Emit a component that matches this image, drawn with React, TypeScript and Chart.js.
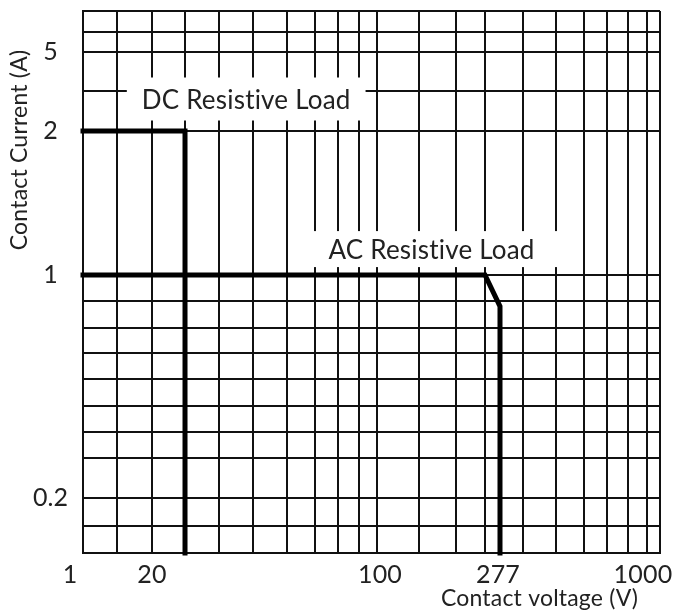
import React, { useEffect, useRef } from 'react';
import { Chart, registerables, LinearScale } from 'chart.js';

// ---------- data ----------
// vertical grid lines (contact voltage, V)
const X_GRID_VOLTS = [1, 10, 20, 30, 40, 50, 60, 70, 80, 90, 100, 150, 200, 250, 300, 400, 500, 600, 700, 800, 1000];
// horizontal grid lines (contact current, A)
const Y_GRID_AMPS = [0.1, 0.15, 0.2, 0.3, 0.4, 0.5, 0.6, 0.7, 0.8, 0.9, 1, 2, 3, 5, 7, 10];

const X_TICK_VALUES = [1, 20, 100, 277, 1000];
const X_TICK_LABELS = ['1', '20', '100', '277', '1000'];
const Y_TICK_VALUES = [5, 2, 1, 0.2];
const Y_TICK_LABELS = ['5', '2', '1', '0.2'];

const DC_VOLTS = [1, 30, 30];
const DC_AMPS = [2, 2, 0.1];
const AC_VOLTS = [1, 250, 277, 277];
const AC_AMPS = [1, 1, 0.88, 0.1];

const CURVE_LABELS = ['DC Resistive Load', 'AC Resistive Load'];
const CURVE_LABEL_VOLTS = [48, 167];
const CURVE_LABEL_AMPS = [2.8, 1.18];

const X_TITLE = 'Contact voltage (V)';
const Y_TITLE = 'Contact Current (A)';

// ---------- scale breakpoints (schematic, non-uniform axes) ----------
const X_BREAK_VALUES = [1, 10, 20, 30, 40, 50, 60, 70, 80, 90, 100, 150, 200, 250, 277, 300, 400, 500, 600, 700, 800, 1000];
const X_BREAK_FRACS = [0, 0.0589, 0.1196, 0.1768, 0.2357, 0.2946, 0.3536, 0.4021, 0.4419, 0.4783, 0.5095, 0.5823, 0.6464, 0.6967, 0.7227, 0.7626, 0.8198, 0.8683, 0.9081, 0.9445, 0.9775, 1];
const Y_BREAK_VALUES = [0.1, 0.15, 0.2, 0.3, 0.4, 0.5, 0.6, 0.7, 0.8, 0.9, 1, 2, 3, 5, 7, 10];
const Y_BREAK_FRACS = [0, 0.0498, 0.1015, 0.1753, 0.2232, 0.2712, 0.321, 0.369, 0.4151, 0.4649, 0.5129, 0.7786, 0.8524, 0.9244, 0.9613, 1];

// ---------- style ----------
const FONT_FAMILY = 'Lato, "Open Sans", sans-serif';
const TEXT_COLOR = '#222';
const GRID_COLOR = '#111';
const GRID_WIDTH = 2;
const CURVE_WIDTH = 5;
const LABEL_FONT_SIZE = 26;
const TICK_FONT_SIZE = 25;
const TITLE_FONT_SIZE = 23;
const LABEL_BOX_PAD = [[15, 21.5], [27, 18]];
const X_TICK_DX = [-13, 0, 3, -2, -17];

function interp(xs: number[], ys: number[], v: number) {
  const n = xs.length;
  let i = 0;
  if (v <= xs[0]) i = 0;
  else if (v >= xs[n - 1]) i = n - 2;
  else {
    while (i < n - 2 && v > xs[i + 1]) i++;
  }
  const t = (v - xs[i]) / (xs[i + 1] - xs[i]);
  return ys[i] + t * (ys[i + 1] - ys[i]);
}

function makeBreakScale(id: string, values: number[], fracs: number[]) {
  class BreakScale extends (LinearScale as any) {
    static id = id;
    static defaults = (LinearScale as any).defaults;
    getPixelForValue(value: number) {
      if (value === null || value === undefined || isNaN(value)) return NaN;
      return this.getPixelForDecimal(interp(values, fracs, value));
    }
    getValueForPixel(pixel: number) {
      return interp(fracs, values, this.getDecimalForPixel(pixel));
    }
  }
  return BreakScale;
}

const VoltScale = makeBreakScale('voltBreak', X_BREAK_VALUES, X_BREAK_FRACS);
const AmpScale = makeBreakScale('ampBreak', Y_BREAK_VALUES, Y_BREAK_FRACS);

Chart.register(...registerables, VoltScale as any, AmpScale as any);

function noLigatures(ctx: any) {
  try {
    ctx.letterSpacing = '0.2px';
  } catch (e) {
    /* ignore */
  }
}

const textPlugin = {
  id: 'textPlugin',
  beforeDatasetsDraw(chart: any) {
    const { ctx, scales } = chart;
    const xs = scales.x;
    const ys = scales.y;
    ctx.save();
    noLigatures(ctx);
    ctx.font = `${LABEL_FONT_SIZE}px ${FONT_FAMILY}`;
    const capH = ctx.measureText('H').actualBoundingBoxAscent;
    CURVE_LABELS.forEach((text, i) => {
      const cx = xs.getPixelForValue(CURVE_LABEL_VOLTS[i]);
      const cy = ys.getPixelForValue(CURVE_LABEL_AMPS[i]);
      const w = ctx.measureText(text).width;
      const [px, py] = LABEL_BOX_PAD[i];
      ctx.fillStyle = '#fff';
      ctx.fillRect(cx - w / 2 - px, cy - py, w + 2 * px, 2 * py);
      ctx.fillStyle = TEXT_COLOR;
      ctx.textAlign = 'center';
      ctx.textBaseline = 'alphabetic';
      ctx.fillText(text, cx, cy + capH / 2);
    });
    ctx.restore();
  },
  afterDraw(chart: any) {
    const { ctx, scales, chartArea } = chart;
    const xs = scales.x;
    ctx.save();
    noLigatures(ctx);
    ctx.fillStyle = TEXT_COLOR;
    ctx.font = `${TICK_FONT_SIZE}px ${FONT_FAMILY}`;
    ctx.textAlign = 'center';
    ctx.textBaseline = 'middle';
    X_TICK_VALUES.forEach((v, i) => {
      ctx.fillText(X_TICK_LABELS[i], xs.getPixelForValue(v) + X_TICK_DX[i], chartArea.bottom + 22);
    });
    ctx.font = `${TITLE_FONT_SIZE}px ${FONT_FAMILY}`;
    ctx.textAlign = 'right';
    ctx.fillText(X_TITLE, chartArea.right - 22, chartArea.bottom + 46);
    ctx.translate(20, chartArea.top + 139);
    ctx.rotate(-Math.PI / 2);
    ctx.textAlign = 'center';
    ctx.fillText(Y_TITLE, 0, 0);
    ctx.restore();
  },
};

export default function App() {
  const ref = useRef<HTMLCanvasElement | null>(null);
  useEffect(() => {
    if (!ref.current) return;
    const chart = new Chart(ref.current, {
      type: 'line',
      data: {
        datasets: [
          {
            label: 'DC',
            data: DC_VOLTS.map((v, i) => ({ x: v, y: DC_AMPS[i] })),
            borderColor: '#000',
            borderWidth: CURVE_WIDTH,
            borderCapStyle: 'square',
            borderJoinStyle: 'miter',
            pointRadius: 0,
            tension: 0,
            clip: false as any,
          },
          {
            label: 'AC',
            data: AC_VOLTS.map((v, i) => ({ x: v, y: AC_AMPS[i] })),
            borderColor: '#000',
            borderWidth: CURVE_WIDTH,
            borderCapStyle: 'square',
            borderJoinStyle: 'miter',
            pointRadius: 0,
            tension: 0,
            clip: false as any,
          },
        ],
      },
      options: {
        animation: false,
        responsive: false,
        maintainAspectRatio: false,
        layout: { padding: { top: 11, right: 16, left: 0, bottom: 0 } },
        plugins: { legend: { display: false }, tooltip: { enabled: false } },
        events: [],
        scales: {
          x: {
            type: 'voltBreak' as any,
            min: 1,
            max: 1000,
            afterBuildTicks: (s: any) => {
              s.ticks = X_GRID_VOLTS.map((v) => ({ value: v }));
            },
            afterFit: (s: any) => {
              s.height = 62;
              s.paddingLeft = 0;
              s.paddingRight = 0;
            },
            ticks: { display: false },
            grid: { color: GRID_COLOR, lineWidth: GRID_WIDTH, drawTicks: false },
            border: { display: true, color: GRID_COLOR, width: GRID_WIDTH },
          },
          y: {
            type: 'ampBreak' as any,
            min: 0.1,
            max: 10,
            afterBuildTicks: (s: any) => {
              s.ticks = Y_GRID_AMPS.map((v) => ({ value: v }));
            },
            afterFit: (s: any) => {
              s.width = 83;
              s.paddingTop = 0;
              s.paddingBottom = 0;
            },
            ticks: {
              padding: 15,
              crossAlign: 'center',
              color: TEXT_COLOR,
              font: { family: FONT_FAMILY, size: TICK_FONT_SIZE },
              callback: (value: any) => {
                const idx = Y_TICK_VALUES.indexOf(Number(value));
                return idx >= 0 ? Y_TICK_LABELS[idx] : '';
              },
            },
            grid: { color: GRID_COLOR, lineWidth: GRID_WIDTH, drawTicks: false },
            border: { display: true, color: GRID_COLOR, width: GRID_WIDTH },
          },
        },
      } as any,
      plugins: [textPlugin],
    });
    return () => chart.destroy();
  }, []);
  return (
    <div style={{ position: 'fixed', left: 0, top: 0, width: 676, height: 615, background: '#fff' }}>
      <canvas ref={ref} width={676} height={615} style={{ width: 676, height: 615, display: 'block' }} />
    </div>
  );
}
